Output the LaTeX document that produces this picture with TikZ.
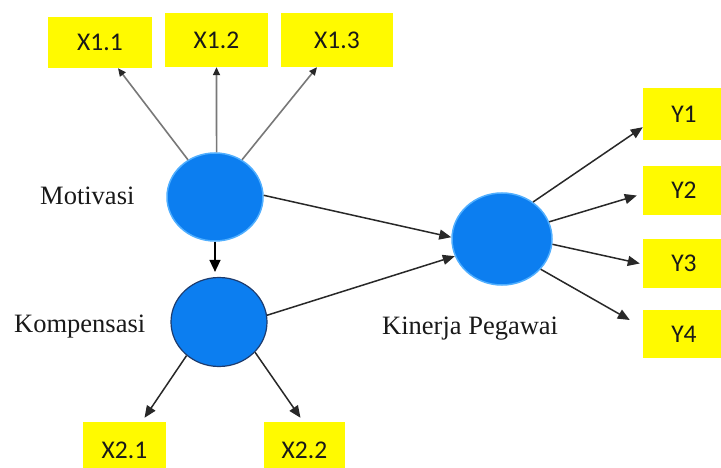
\documentclass[tikz,border=0pt]{standalone}
\usepackage{fontspec}
\setmainfont{Liberation Serif}
\newfontfamily\boxfont{Carlito}
\usetikzlibrary{arrows.meta,shapes.geometric}
\definecolor{latblue}{RGB}{12,126,240}
\definecolor{halo}{RGB}{80,175,255}
\definecolor{rimdark}{RGB}{30,60,110}
\definecolor{indyel}{RGB}{255,250,0}
\definecolor{greyline}{RGB}{120,120,120}
\definecolor{darkline}{RGB}{40,40,40}
\begin{document}
\begin{tikzpicture}[x=1pt,y=-1pt,
  indbox/.style={rectangle, fill=indyel, inner sep=0pt, font=\boxfont\fontsize{25.5}{25.5}\selectfont, text=black!90},
  latent/.style={ellipse, fill=latblue, inner sep=0pt},
  lbl/.style={font=\fontsize{26.5}{26.5}\selectfont, anchor=base west, inner sep=0pt, text=black!90},
  garrow/.style={draw=greyline, line width=1.6pt, -{Triangle[length=8pt,width=7pt,color=darkline]}},
  darrow/.style={draw=darkline, line width=1.5pt, -{Triangle[length=12pt,width=10pt]}},
  barrow/.style={draw=black, line width=1.5pt, -{Triangle[length=12pt,width=11pt]}}
]
\fill[white] (0,0) rectangle (721,468);
\useasboundingbox (0,0) rectangle (721,468);

\node[indbox, minimum width=104pt, minimum height=51pt] (x11) at (100,42.5) {X1.1};
\node[indbox, minimum width=103pt, minimum height=54pt] (x12) at (216.5,40) {X1.2};
\node[indbox, minimum width=112pt, minimum height=54pt] (x13) at (337,40) {X1.3};
\node[indbox, minimum width=83pt, minimum height=56pt] (x21) at (124.5,450) {X2.1};
\node[indbox, minimum width=81pt, minimum height=56pt] (x22) at (304.5,450) {X2.2};
\node[indbox, minimum width=82pt, minimum height=52pt] (y1) at (684,114) {Y1};
\node[indbox, minimum width=82pt, minimum height=49pt] (y2) at (684,190.5) {Y2};
\node[indbox, minimum width=82pt, minimum height=49pt] (y3) at (684,263.5) {Y3};
\node[indbox, minimum width=82pt, minimum height=48pt] (y4) at (684,334) {Y4};

\node[latent, draw=halo, line width=1.5pt, minimum width=96pt, minimum height=88pt] (mot) at (215,197) {};
\node[latent, draw=rimdark, line width=1.2pt, minimum width=96pt, minimum height=89pt] (komp) at (219,322) {};
\node[latent, draw=halo, line width=1.5pt, minimum width=100pt, minimum height=92pt] (kin) at (502,239) {};

\node[lbl] (lmot) at (40,205) {Motivasi};
\node[lbl] (lkomp) at (14,332) {Kompensasi};
\node[lbl] (lkin) at (382,334) {Kinerja Pegawai};

\draw[garrow] (mot.126) -- ([xshift=18pt]x11.south);
\draw[garrow] (mot.88) -- (x12.south);
\draw[garrow] (mot.54) -- ([xshift=-20pt]x13.south);
\draw[darrow] (mot.2) -- (kin.178);
\draw[darrow] (komp.8) -- (kin.200);
\draw[barrow, shorten >=5pt] (mot.south) -- (mot.south |- komp.north);

\draw[darrow] (kin.50) -- ([yshift=13pt]y1.south west);
\draw[darrow] (kin.20) -- ([xshift=-6pt,yshift=-5pt]y2.west);
\draw[darrow] (kin.-6) -- ([xshift=-3pt]y3.west);
\draw[darrow] (kin.-38) -- ([xshift=-13pt,yshift=14pt]y4.west);

\draw[darrow] (komp.226) -- ([xshift=20pt,yshift=4pt]x21.north);
\draw[darrow] (komp.320) -- ([xshift=-4pt,yshift=4pt]x22.north);
\end{tikzpicture}
\end{document}
